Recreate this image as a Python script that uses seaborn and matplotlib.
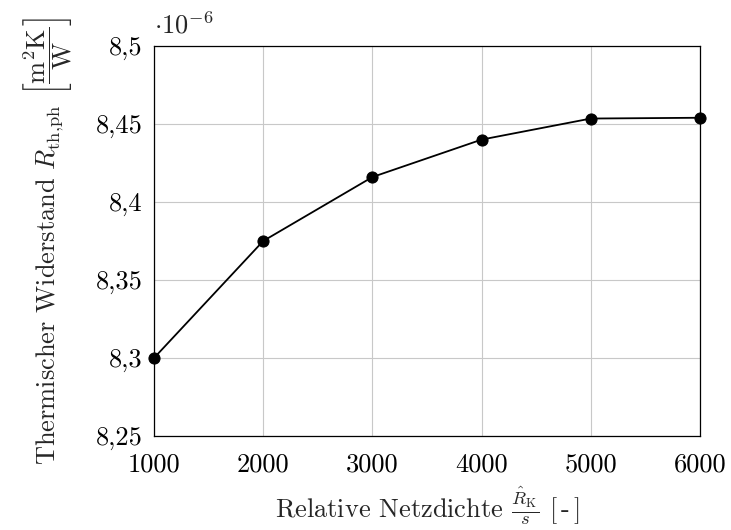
import matplotlib
matplotlib.use("Agg")
import matplotlib.pyplot as plt
from matplotlib.ticker import FuncFormatter
import seaborn as sns
import pandas as pd

# Netzdichte vs. thermischer Widerstand
netzdichte = [1000, 2000, 3000, 4000, 5000, 6000]
r_th = [8.300e-6, 8.375e-6, 8.416e-6, 8.440e-6, 8.4535e-6, 8.454e-6]
y_ticks = [8.25e-6, 8.30e-6, 8.35e-6, 8.40e-6, 8.45e-6, 8.50e-6]
x_ticks = [1000, 2000, 3000, 4000, 5000, 6000]

df = pd.DataFrame({"x": netzdichte, "y": r_th})

sns.set_theme(style="whitegrid")
plt.rcParams["font.family"] = "cmr10"
plt.rcParams["mathtext.fontset"] = "cm"
plt.rcParams["axes.unicode_minus"] = False

fs = 19

fig = plt.figure(figsize=(7.31, 5.30), dpi=100)
ax = fig.add_axes([0.2107, 0.1774, 0.7469, 0.7358])

sns.lineplot(data=df, x="x", y="y", ax=ax, color="black", linewidth=1.3,
             marker="o", markersize=8, markeredgecolor="black",
             markerfacecolor="black", clip_on=False, zorder=5)

ax.set_xlim(1000, 6000)
ax.set_ylim(y_ticks[0], y_ticks[-1])
ax.set_xticks(x_ticks)
ax.set_yticks(y_ticks)


def fmt(v, pos):
    s = f"{v * 1e6:.2f}".rstrip("0").rstrip(".")
    return s.replace(".", ",")


ax.yaxis.set_major_formatter(FuncFormatter(fmt))
ax.xaxis.set_major_formatter(FuncFormatter(lambda v, p: f"{int(round(v))}"))

ax.grid(True, color="#c8c8c8", linewidth=0.8)
ax.set_facecolor("white")
for sp in ax.spines.values():
    sp.set_color("black")
    sp.set_linewidth(0.9)

ax.tick_params(axis="both", direction="in", length=4, width=0.8,
               color="#888888", labelsize=fs, pad=8, labelcolor="black")
ax.tick_params(axis="x", pad=12)

ax.text(0.0, 1.02, r"$\cdot 10^{-6}$", transform=ax.transAxes,
        fontsize=fs, ha="left", va="bottom")

ax.set_xlabel(r"Relative Netzdichte $\frac{\hat{R}_\mathrm{K}}{s}$ $[\,$-$\,]$",
              fontsize=fs)
ax.set_ylabel(r"Thermischer Widerstand $R_{\mathrm{th{,}ph}}$ "
              r"$\left[\dfrac{\mathrm{m}^2\mathrm{K}}{\mathrm{W}}\right]$",
              fontsize=fs)
ax.xaxis.set_label_coords(0.5, -0.125)
ax.yaxis.set_label_coords(-0.145, 0.5)

fig.savefig("out.png", dpi=100)
